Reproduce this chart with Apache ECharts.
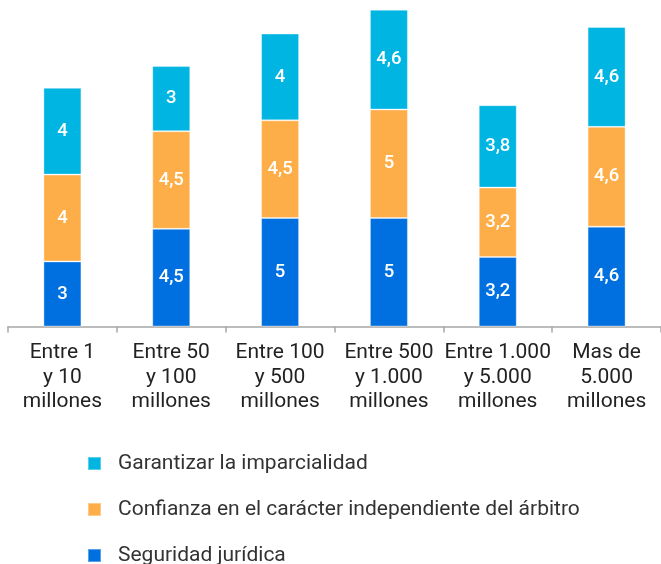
<!DOCTYPE html>
<html>
<head>
<meta charset="utf-8">
<script src="https://cdn.jsdelivr.net/npm/echarts@6/dist/echarts.min.js"></script>
<style>
  html, body { margin: 0; padding: 0; background: #fff; }
  #chart { width: 661px; height: 564px; }
</style>
</head>
<body>
<div id="chart"></div>
<script>
// Rangos de facturación
const categories = [
  'Entre 1\ny 10\nmillones',
  'Entre 50\ny 100\nmillones',
  'Entre 100\ny 500\nmillones',
  'Entre 500\ny 1.000\nmillones',
  'Entre 1.000\ny 5.000\nmillones',
  'Mas de\n5.000\nmillones'
];

const seriesNames = [
  'Seguridad jurídica',
  'Confianza en el carácter independiente del árbitro',
  'Garantizar la imparcialidad'
];

const seguridad = [3, 4.5, 5, 5, 3.2, 4.6];
const confianza = [4, 4.5, 4.5, 5, 3.2, 4.6];
const imparcialidad = [4, 3, 4, 4.6, 3.8, 4.6];

const colors = ['#0070E0', '#FEAE48', '#00B5E2'];

const chart = echarts.init(document.getElementById('chart'), null, { renderer: 'canvas' });

const fmt = p => String(p.value).replace('.', ',');

const makeSeries = (name, data, color) => ({
  name: name,
  type: 'bar',
  stack: 'total',
  data: data,
  barWidth: 38,
  itemStyle: { color: color, borderColor: 'rgba(255,255,255,0.35)', borderWidth: 1 },
  label: {
    show: true,
    position: 'inside',
    color: '#fff',
    fontFamily: 'Roboto',
    fontSize: 18.5,
    fontWeight: 500,
    formatter: fmt
  }
});

chart.setOption({
  animation: false,
  backgroundColor: '#fff',
  grid: { left: 8, width: 660, top: 1, height: 325.5, containLabel: false },
  xAxis: {
    type: 'category',
    data: categories,
    axisLine: { show: true, lineStyle: { color: '#A6A6A6', width: 1.5 } },
    axisTick: { show: true, length: 6, lineStyle: { color: '#A6A6A6', width: 1.5 } },
    axisLabel: {
      interval: 0,
      color: '#222',
      fontFamily: 'Roboto',
      fontSize: 21,
      lineHeight: 24.5,
      margin: 14
    }
  },
  yAxis: {
    type: 'value',
    min: 0,
    max: 15,
    show: false,
    splitLine: { show: false }
  },
  legend: {
    orient: 'vertical',
    left: 87,
    top: 453,
    height: 120,
    padding: 0,
    itemWidth: 13,
    itemHeight: 13,
    itemGap: 25,
    icon: 'rect',
    data: [seriesNames[2], seriesNames[1], seriesNames[0]],
    textStyle: {
      color: '#333',
      fontFamily: 'Roboto',
      fontSize: 21,
      lineHeight: 20,
      padding: [0, 0, 0, 12]
    }
  },
  series: [
    makeSeries(seriesNames[0], seguridad, colors[0]),
    makeSeries(seriesNames[1], confianza, colors[1]),
    makeSeries(seriesNames[2], imparcialidad, colors[2])
  ]
});
</script>
</body>
</html>
